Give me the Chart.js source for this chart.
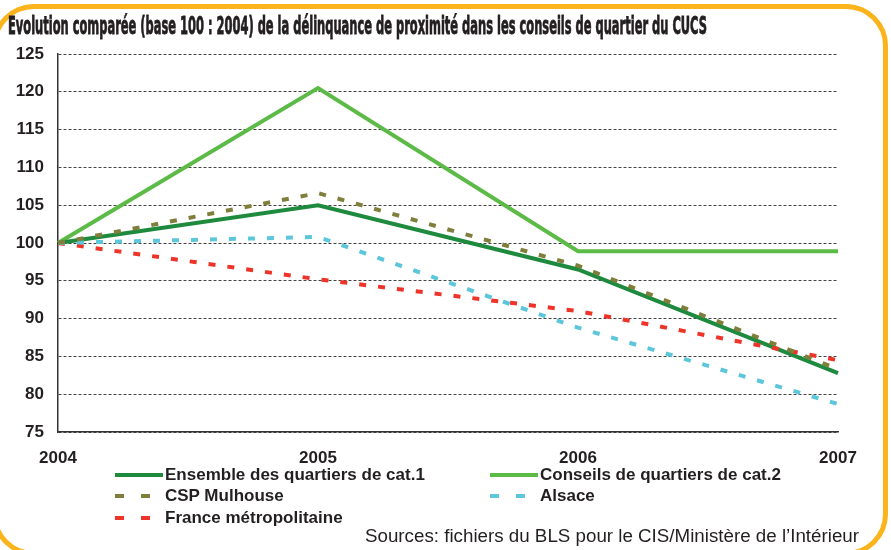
<!DOCTYPE html>
<html>
<head>
<meta charset="utf-8">
<script src="https://cdn.jsdelivr.net/npm/chart.js@4.4.0/dist/chart.umd.min.js"></script>
<style>
  html, body { margin: 0; padding: 0; background: #fff; }
  #wrap { position: relative; width: 891px; height: 550px; overflow: hidden; background: #fff; }
  #frame { position: absolute; left: -8px; top: 4px; width: 896px; height: 552px; box-sizing: border-box;
           border: 5px solid #fbb41c; border-radius: 42px; }
  #chart { position: absolute; left: 0; top: 0; }
  .fit { position: absolute; white-space: nowrap; transform-origin: 0 0; color: #231f20; }
  #title { left: 8px; top: 12px; font: bold 24px "DejaVu Sans", sans-serif; font-stretch: condensed;
           -webkit-text-stroke: 0.8px #231f20; }
  #source { left: 365px; top: 526px; font: 18px "Liberation Sans", Arial, sans-serif; }
  .leg { position: absolute; font: bold 17px "Liberation Sans", Arial, sans-serif; color: #231f20;
         white-space: nowrap; line-height: 20px; }
  .sw { position: absolute; height: 4px; }
</style>
</head>
<body>
<div id="wrap">
  <canvas id="chart" width="891" height="550"></canvas>
  <div id="frame"></div>
  <div id="title" class="fit" data-w="699">Evolution comparée (base 100 : 2004) de la délinquance de proximité dans les conseils de quartier du CUCS</div>
  <div id="source" class="fit" data-w="494">Sources: fichiers du BLS pour le CIS/Ministère de l’Intérieur</div>
  <div id="legend"></div>
</div>
<script>
// values (base 100 = 2004)
const years = ['2004', '2005', '2006', '2007'];
const ensembleCat1 = [100, 105.0, 96.5, 82.8];
const conseilsCat2 = [100, 120.5, 98.9, 98.9];
const cspMulhouse = [100, 106.6, 97.0, 83.3];
const alsace = [100, 100.8, 88.8, 78.7];
const franceMetro = [100, 95.2, 91.0, 84.5];

const seriesNames = [
    'Ensemble des quartiers de cat.1',
    'Conseils de quartiers de cat.2',
    'CSP Mulhouse',
    'Alsace',
    'France métropolitaine'
];
const seriesColors = ['#1e8a3e', '#5cba46', '#7f7f3b', '#5cc6da', '#ee3329'];
const seriesDashed = [false, false, true, true, true];
const seriesValues = [ensembleCat1, conseilsCat2, cspMulhouse, alsace, franceMetro];

const tickFont = { family: '"Liberation Sans", Arial, sans-serif', size: 17, weight: 'bold' };

const datasets = seriesValues.map((vals, i) => ({
    label: seriesNames[i],
    data: vals,
    borderColor: seriesColors[i],
    backgroundColor: seriesColors[i],
    borderWidth: 4,
    borderDash: seriesDashed[i] ? [7, 12] : [],
    borderCapStyle: 'butt',
    pointRadius: 0,
    tension: 0,
    fill: false,
    order: seriesDashed[i] ? 1 : 2
}));

new Chart(document.getElementById('chart'), {
    type: 'line',
    data: { labels: years, datasets: datasets },
    options: {
        responsive: false,
        animation: false,
        layout: { padding: { left: 0, top: 54, right: 53, bottom: 78 } },
        plugins: {
            legend: { display: false },
            title: { display: false },
            tooltip: { enabled: false }
        },
        scales: {
            x: {
                type: 'category',
                offset: false,
                grid: { display: false, drawTicks: false },
                border: { display: true, color: '#333', width: 1.5 },
                ticks: { font: tickFont, color: '#231f20', padding: 16, maxRotation: 0, autoSkip: false },
                afterFit(s) { s.height = 40; }
            },
            y: {
                min: 75,
                max: 125,
                grid: { color: '#444', lineWidth: 1, drawTicks: false },
                border: { display: true, color: '#333', width: 1.5, dash: [3, 2] },
                ticks: { stepSize: 5, font: tickFont, color: '#231f20', padding: 14 },
                afterFit(s) { s.width = 58; }
            }
        }
    }
});

// legend in two columns, like the original
const legend = document.getElementById('legend');
const legPos = [[115, 475], [490, 475], [115, 496], [490, 496], [115, 518]];
seriesNames.forEach((name, i) => {
    const [x, y] = legPos[i];
    if (seriesDashed[i]) {
        [0, 26].forEach(dx => {
            const d = document.createElement('div');
            d.className = 'sw';
            d.style.cssText = `left:${x + dx}px;top:${y - 2}px;width:9px;background:${seriesColors[i]}`;
            legend.appendChild(d);
        });
    } else {
        const d = document.createElement('div');
        d.className = 'sw';
        d.style.cssText = `left:${x}px;top:${y - 2}px;width:48px;background:${seriesColors[i]}`;
        legend.appendChild(d);
    }
    const t = document.createElement('div');
    t.className = 'leg';
    t.style.left = (x + 50) + 'px';
    t.style.top = (y - 10) + 'px';
    t.textContent = name;
    legend.appendChild(t);
});

// squeeze condensed texts to the width they take in the original
document.querySelectorAll('.fit').forEach(el => {
    const w = el.getBoundingClientRect().width;
    el.style.transform = `scaleX(${el.dataset.w / w})`;
});
</script>
</body>
</html>
